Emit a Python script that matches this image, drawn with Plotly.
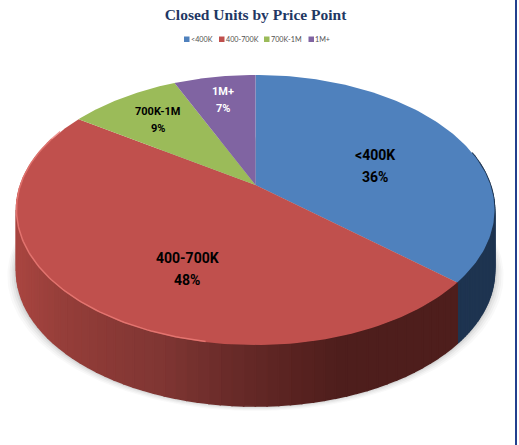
import numpy as np
import plotly.graph_objects as go

# ---- data ----
categories = ["<400K", "400-700K", "700K-1M", "1M+"]
shares = [36.4, 48.0, 9.0, 6.6]
top_colors = ["#4F81BD", "#C0504D", "#9BBB59", "#8064A2"]
label_colors = ["#000000", "#000000", "#000000", "#FFFFFF"]
label_x = [375, 187, 158, 223]
label_y = [166, 269, 120, 100]
label_sizes = [14, 14, 11, 11]
label_gaps = [11, 11, 8.5, 8.5]
legend_swatch_x = [184, 219, 264, 308.5]
legend_text_x = [191, 226, 271, 315]

# ---- projection of the tilted disc (pixel frame of the 519x445 page) ----
CX, CY, A, B, K, DEPTH = 255.5, 185.0, 234.9, 130.4, 0.1852, 61.0


def project(theta, r=1.0):
    X, Y = r * np.sin(theta), r * np.cos(theta)
    w = 1 + K * Y
    return CX + A * X / w, CY - B * Y / w


def wall_color(x, i):
    if i == 0:
        return "#1E3450"
    stops = [18, 60, 100, 160, 220, 280, 340]
    r = np.interp(x, stops, [168, 150, 140, 128, 108, 92, 78])
    g = np.interp(x, stops, [69, 62, 58, 54, 44, 36, 30])
    b = np.interp(x, stops, [64, 58, 54, 51, 42, 34, 28])
    return f"rgb({r:.0f},{g:.0f},{b:.0f})"


fractions = np.cumsum([0] + shares) / sum(shares)
edges = 2 * np.pi * fractions

fig = go.Figure()

# soft shadow under the body
all_t = np.linspace(0, 2 * np.pi, 240)
for grow, alpha in [(9, 0.03), (7, 0.04), (5, 0.05), (3, 0.07), (1.5, 0.08)]:
    sx, sy = project(all_t)
    fig.add_trace(go.Scatter(
        x=CX + (sx - CX) * (1 + grow / 239), y=sy + DEPTH + grow * 0.55,
        mode="lines", fill="toself", fillcolor=f"rgba(60,60,60,{alpha})",
        line=dict(width=0), hoverinfo="skip", showlegend=False))

# side wall, drawn in thin vertical strips
for i in range(len(shares)):
    lo, hi = edges[i], edges[i + 1]
    lo_v, hi_v = max(lo, np.radians(75)), min(hi, np.radians(292))
    if lo_v >= hi_v:
        continue
    steps = np.linspace(lo_v, hi_v, 70)
    for t0, t1 in zip(steps[:-1], steps[1:]):
        x0, y0 = project(t0)
        x1, y1 = project(t1)
        col = wall_color((x0 + x1) / 2, i)
        fig.add_trace(go.Scatter(
            x=[x0, x1, x1, x0, x0], y=[y0, y1, y1 + DEPTH, y0 + DEPTH, y0],
            mode="lines", fill="toself", fillcolor=col,
            line=dict(width=1.6, color=col), hoverinfo="skip", showlegend=False))

# top face
for i, name in enumerate(categories):
    t = np.linspace(edges[i], edges[i + 1], 120)
    px, py = project(t)
    fig.add_trace(go.Scatter(
        x=np.r_[CX, px, CX], y=np.r_[CY, py, CY], name=name,
        mode="lines", fill="toself", fillcolor=top_colors[i],
        line=dict(width=0), hoverinfo="skip", showlegend=False))

# bevel highlight along the near rim of the red slice
t = np.radians(np.linspace(190, 296, 120))
px, py = project(t)
fig.add_trace(go.Scatter(x=px, y=py - 0.5, mode="lines",
                         line=dict(color="rgba(236,125,120,0.8)", width=1.5),
                         hoverinfo="skip", showlegend=False))

annotations = []
for c, s, x, y, z, g, col in zip(categories, shares, label_x, label_y, label_sizes, label_gaps, label_colors):
    for txt, dy in ((c, -g), (f"{round(s)}%", g)):
        annotations.append(dict(x=x, y=y + dy, xref="x", yref="y", showarrow=False,
                                text=f"<b>{txt}</b>",
                                font=dict(family="Roboto", size=z, color=col)))
annotations += [
    dict(x=x, y=39, xref="x", yref="y", xanchor="left", showarrow=False, text=c, borderpad=0,
         xshift=-1, font=dict(family="Lato", size=7.2, color="#505050"))
    for c, x in zip(categories, legend_text_x)
]
shapes = [dict(type="rect", xref="x", yref="y", x0=x, x1=x + 5.5, y0=36.5, y1=42,
               fillcolor=c, line=dict(width=0))
          for x, c in zip(legend_swatch_x, top_colors)]
shapes.append(dict(type="line", xref="x", yref="y", x0=516, x1=516, y0=0, y1=445,
                   line=dict(color="#23408E", width=2)))

fig.update_layout(
    width=519, height=445, margin=dict(l=0, r=0, t=0, b=0),
    paper_bgcolor="white", plot_bgcolor="white",
    xaxis=dict(range=[0, 519], visible=False, fixedrange=True),
    yaxis=dict(range=[445, 0], visible=False, fixedrange=True),
    title=dict(text="<b>Closed Units by Price Point</b>", x=255.5 / 519, xanchor="center",
               y=1 - 14.5 / 445, yanchor="middle",
               font=dict(family="Liberation Serif", size=15.5, color="#1F3864")),
    showlegend=False,
    annotations=annotations,
    shapes=shapes,
)

fig.write_html("out.html", config=dict(displayModeBar=False),
               post_script="document.body.style.margin='0';document.body.style.overflow='hidden';")
